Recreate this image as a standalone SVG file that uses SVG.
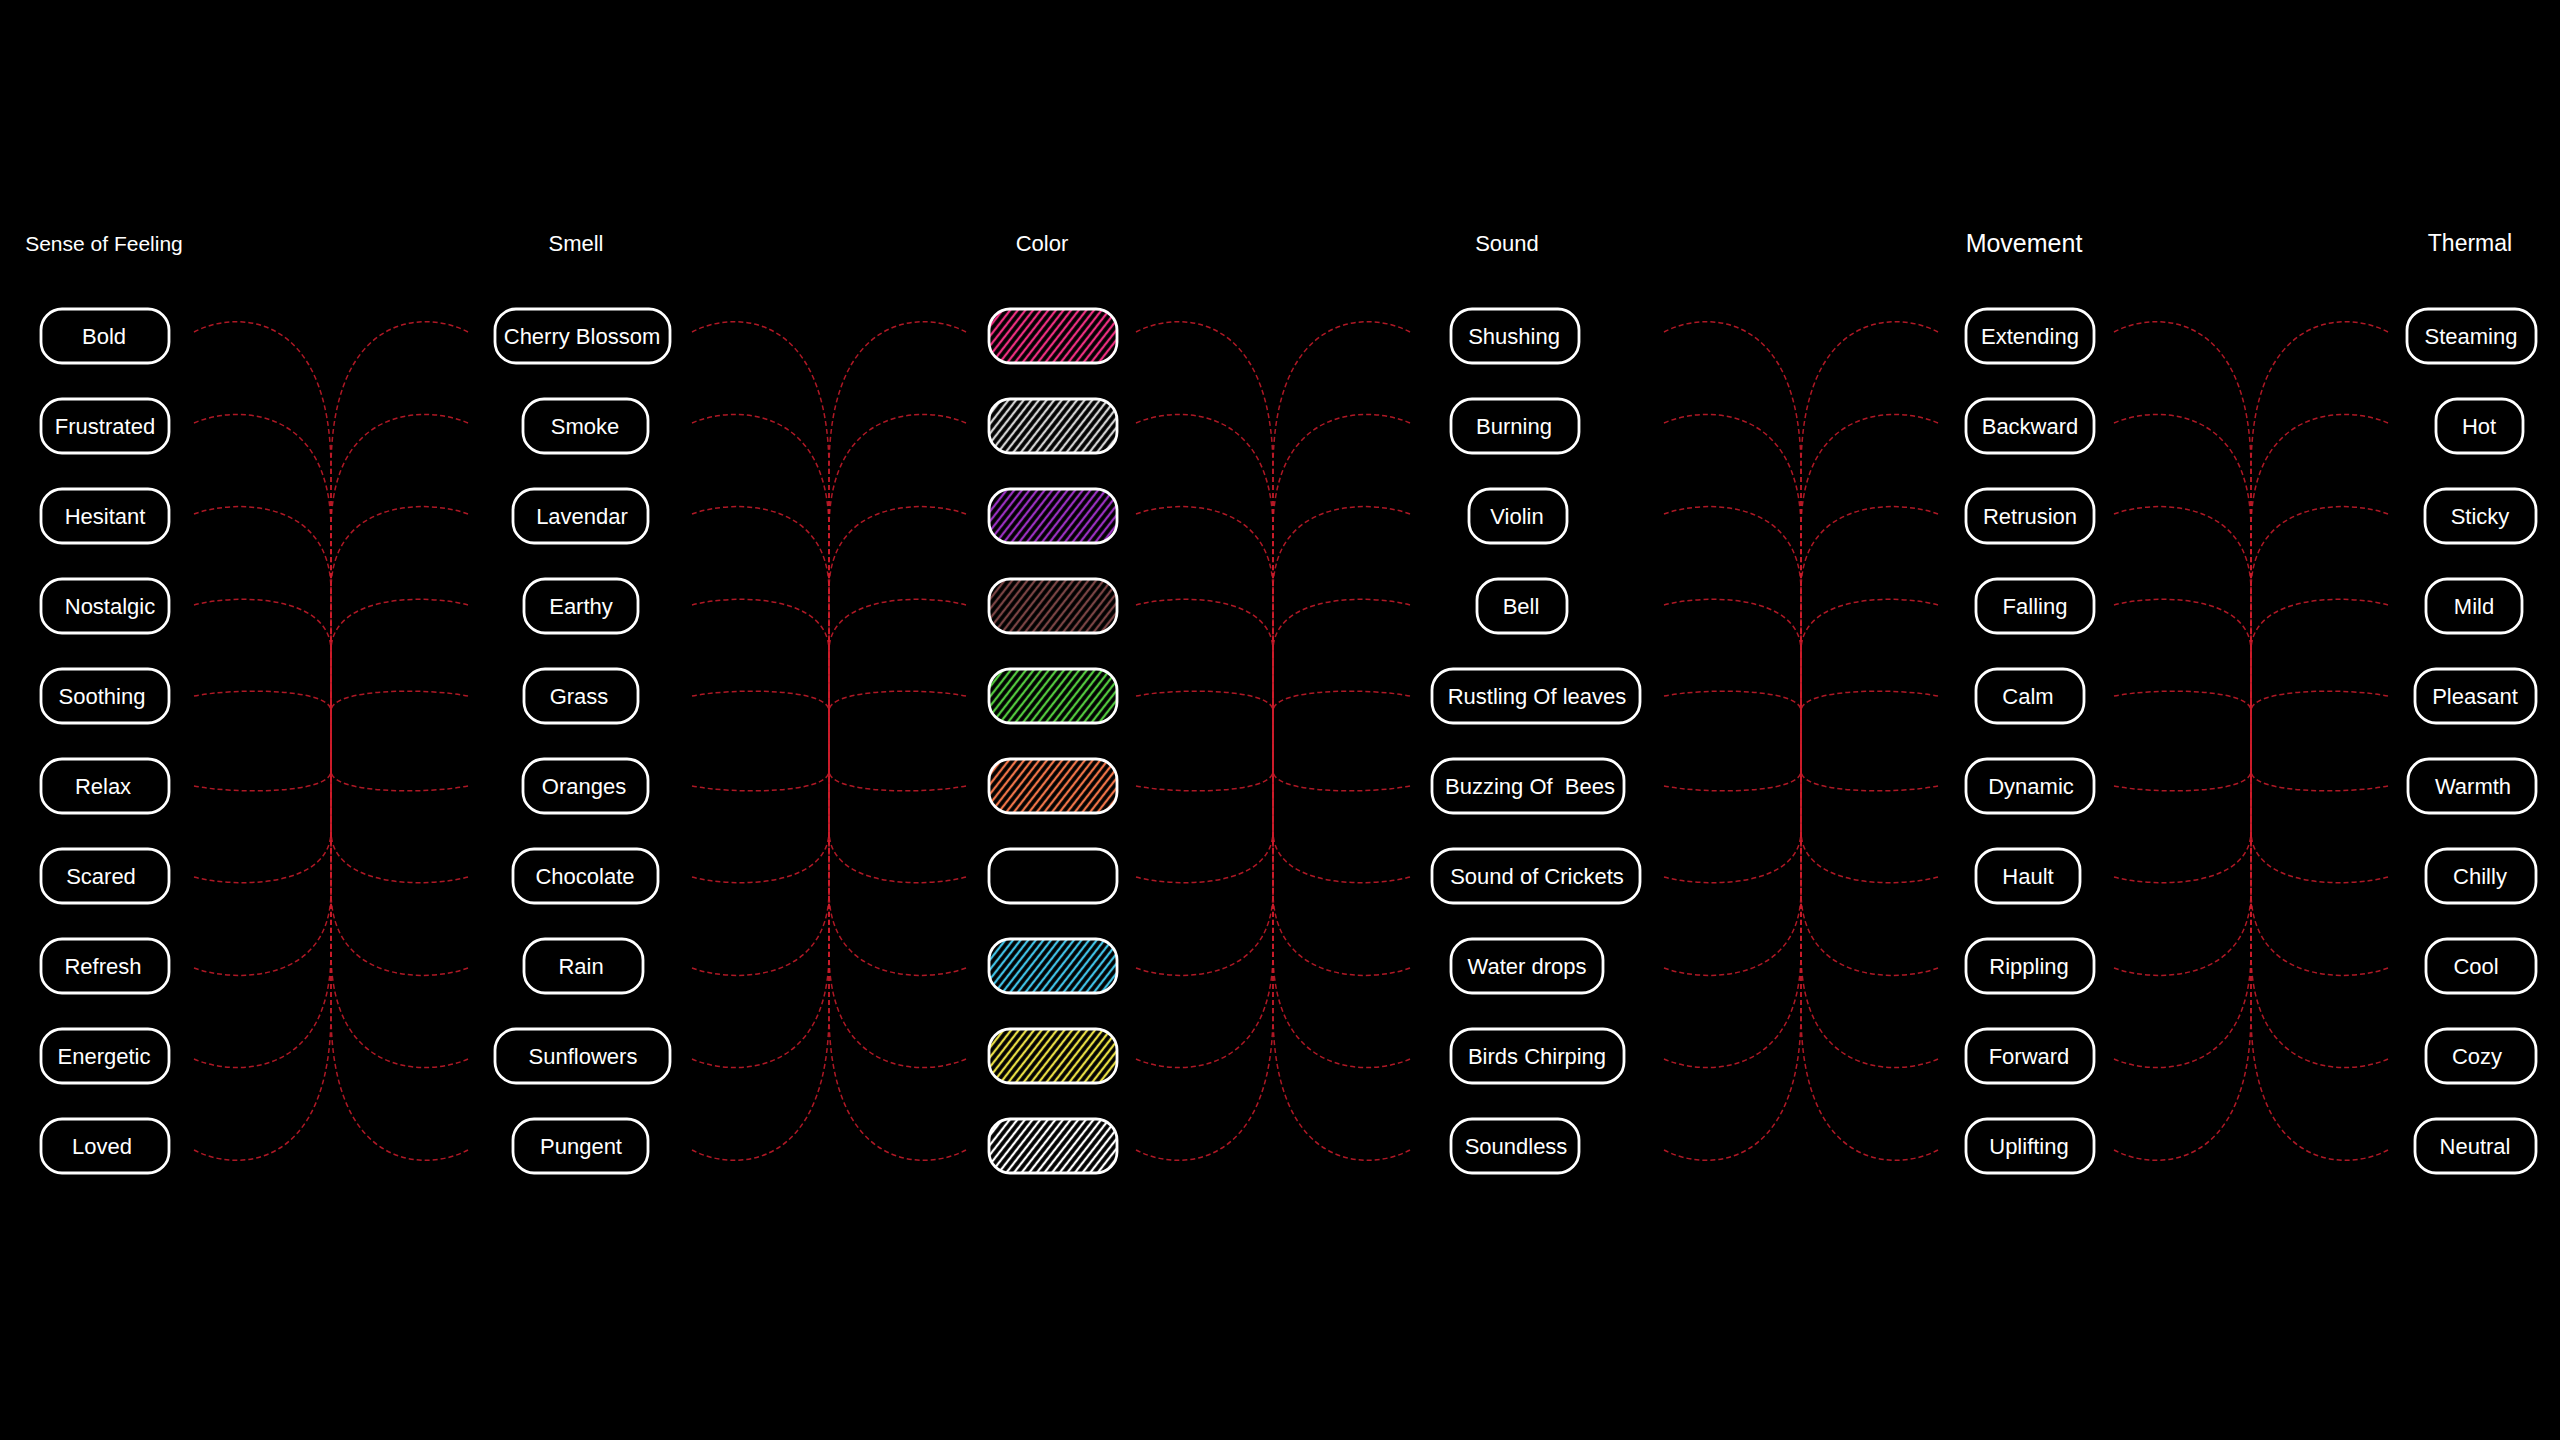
<svg xmlns="http://www.w3.org/2000/svg" width="2560" height="1440" viewBox="0 0 2560 1440">
<style>
.hdr{font-family:"Liberation Sans",Arial,sans-serif;font-size:22px;fill:#fff;text-anchor:middle}
.lbl{font-family:"Liberation Sans",Arial,sans-serif;font-size:22px;fill:#fff;text-anchor:middle}
.box{fill:#000;stroke:#fff;stroke-width:2.8}
.sw{stroke:#fff;stroke-width:2.8}
.conn path{fill:none;stroke:#cc1c2c;stroke-opacity:.85;stroke-width:1.5;stroke-dasharray:5 3}
</style>
<defs>
<pattern id="h-pink" width="6" height="10" patternUnits="userSpaceOnUse" patternTransform="rotate(38)"><rect width="6" height="10" fill="#000"/><line x1="3" y1="0" x2="3" y2="10" stroke="#ec2f80" stroke-width="2.3"/></pattern>
<pattern id="h-gray" width="6" height="10" patternUnits="userSpaceOnUse" patternTransform="rotate(38)"><rect width="6" height="10" fill="#000"/><line x1="3" y1="0" x2="3" y2="10" stroke="#d2d2d2" stroke-width="2.3"/></pattern>
<pattern id="h-purple" width="6" height="10" patternUnits="userSpaceOnUse" patternTransform="rotate(38)"><rect width="6" height="10" fill="#000"/><line x1="3" y1="0" x2="3" y2="10" stroke="#9a30c0" stroke-width="2.3"/></pattern>
<pattern id="h-brown" width="6" height="10" patternUnits="userSpaceOnUse" patternTransform="rotate(38)"><rect width="6" height="10" fill="#000"/><line x1="3" y1="0" x2="3" y2="10" stroke="#7a4444" stroke-width="2.3"/></pattern>
<pattern id="h-green" width="6" height="10" patternUnits="userSpaceOnUse" patternTransform="rotate(38)"><rect width="6" height="10" fill="#000"/><line x1="3" y1="0" x2="3" y2="10" stroke="#52c83e" stroke-width="2.3"/></pattern>
<pattern id="h-orange" width="6" height="10" patternUnits="userSpaceOnUse" patternTransform="rotate(38)"><rect width="6" height="10" fill="#000"/><line x1="3" y1="0" x2="3" y2="10" stroke="#ee7448" stroke-width="2.3"/></pattern>
<pattern id="h-cyan" width="6" height="10" patternUnits="userSpaceOnUse" patternTransform="rotate(38)"><rect width="6" height="10" fill="#000"/><line x1="3" y1="0" x2="3" y2="10" stroke="#40c0e4" stroke-width="2.3"/></pattern>
<pattern id="h-yellow" width="6" height="10" patternUnits="userSpaceOnUse" patternTransform="rotate(38)"><rect width="6" height="10" fill="#000"/><line x1="3" y1="0" x2="3" y2="10" stroke="#e6dc44" stroke-width="2.3"/></pattern>
<pattern id="h-white" width="6" height="10" patternUnits="userSpaceOnUse" patternTransform="rotate(38)"><rect width="6" height="10" fill="#000"/><line x1="3" y1="0" x2="3" y2="10" stroke="#ffffff" stroke-width="2.3"/></pattern>
</defs>
<rect x="0" y="0" width="2560" height="1440" fill="#000"/>

<g id="headers">
<text class="hdr" x="104" y="251" style="font-size:21px">Sense of Feeling</text>
<text class="hdr" x="576" y="251">Smell</text>
<text class="hdr" x="1042" y="251">Color</text>
<text class="hdr" x="1507" y="251">Sound</text>
<text class="hdr" x="2024" y="252" style="font-size:25px">Movement</text>
<text class="hdr" x="2470" y="251" style="font-size:23px">Thermal</text>
</g>

<g id="connectors" class="conn">
<g id="fan-feeling-smell" transform="translate(331 0)">
<path d="M-137,332 C-96,310 0,310 0,470 L0,741"/><path d="M137,332 C96,310 0,310 0,470 L0,741"/>
<path d="M-137,423 C-96,405 0,405 0,530 L0,741"/><path d="M137,423 C96,405 0,405 0,530 L0,741"/>
<path d="M-137,514 C-96,499 0,499 0,591 L0,741"/><path d="M137,514 C96,499 0,499 0,591 L0,741"/>
<path d="M-137,605 C-96,594 0,594 0,651 L0,741"/><path d="M137,605 C96,594 0,594 0,651 L0,741"/>
<path d="M-137,696 C-96,688 0,688 0,711 L0,741"/><path d="M137,696 C96,688 0,688 0,711 L0,741"/>
<path d="M-137,786 C-96,794 0,794 0,771 L0,741"/><path d="M137,786 C96,794 0,794 0,771 L0,741"/>
<path d="M-137,877 C-96,888 0,888 0,831 L0,741"/><path d="M137,877 C96,888 0,888 0,831 L0,741"/>
<path d="M-137,968 C-96,983 0,983 0,891 L0,741"/><path d="M137,968 C96,983 0,983 0,891 L0,741"/>
<path d="M-137,1059 C-96,1077 0,1077 0,952 L0,741"/><path d="M137,1059 C96,1077 0,1077 0,952 L0,741"/>
<path d="M-137,1150 C-96,1172 0,1172 0,1012 L0,741"/><path d="M137,1150 C96,1172 0,1172 0,1012 L0,741"/>
</g>
<g id="fan-smell-color" transform="translate(829 0)">
<path d="M-137,332 C-96,310 0,310 0,470 L0,741"/><path d="M137,332 C96,310 0,310 0,470 L0,741"/>
<path d="M-137,423 C-96,405 0,405 0,530 L0,741"/><path d="M137,423 C96,405 0,405 0,530 L0,741"/>
<path d="M-137,514 C-96,499 0,499 0,591 L0,741"/><path d="M137,514 C96,499 0,499 0,591 L0,741"/>
<path d="M-137,605 C-96,594 0,594 0,651 L0,741"/><path d="M137,605 C96,594 0,594 0,651 L0,741"/>
<path d="M-137,696 C-96,688 0,688 0,711 L0,741"/><path d="M137,696 C96,688 0,688 0,711 L0,741"/>
<path d="M-137,786 C-96,794 0,794 0,771 L0,741"/><path d="M137,786 C96,794 0,794 0,771 L0,741"/>
<path d="M-137,877 C-96,888 0,888 0,831 L0,741"/><path d="M137,877 C96,888 0,888 0,831 L0,741"/>
<path d="M-137,968 C-96,983 0,983 0,891 L0,741"/><path d="M137,968 C96,983 0,983 0,891 L0,741"/>
<path d="M-137,1059 C-96,1077 0,1077 0,952 L0,741"/><path d="M137,1059 C96,1077 0,1077 0,952 L0,741"/>
<path d="M-137,1150 C-96,1172 0,1172 0,1012 L0,741"/><path d="M137,1150 C96,1172 0,1172 0,1012 L0,741"/>
</g>
<g id="fan-color-sound" transform="translate(1273 0)">
<path d="M-137,332 C-96,310 0,310 0,470 L0,741"/><path d="M137,332 C96,310 0,310 0,470 L0,741"/>
<path d="M-137,423 C-96,405 0,405 0,530 L0,741"/><path d="M137,423 C96,405 0,405 0,530 L0,741"/>
<path d="M-137,514 C-96,499 0,499 0,591 L0,741"/><path d="M137,514 C96,499 0,499 0,591 L0,741"/>
<path d="M-137,605 C-96,594 0,594 0,651 L0,741"/><path d="M137,605 C96,594 0,594 0,651 L0,741"/>
<path d="M-137,696 C-96,688 0,688 0,711 L0,741"/><path d="M137,696 C96,688 0,688 0,711 L0,741"/>
<path d="M-137,786 C-96,794 0,794 0,771 L0,741"/><path d="M137,786 C96,794 0,794 0,771 L0,741"/>
<path d="M-137,877 C-96,888 0,888 0,831 L0,741"/><path d="M137,877 C96,888 0,888 0,831 L0,741"/>
<path d="M-137,968 C-96,983 0,983 0,891 L0,741"/><path d="M137,968 C96,983 0,983 0,891 L0,741"/>
<path d="M-137,1059 C-96,1077 0,1077 0,952 L0,741"/><path d="M137,1059 C96,1077 0,1077 0,952 L0,741"/>
<path d="M-137,1150 C-96,1172 0,1172 0,1012 L0,741"/><path d="M137,1150 C96,1172 0,1172 0,1012 L0,741"/>
</g>
<g id="fan-sound-movement" transform="translate(1801 0)">
<path d="M-137,332 C-96,310 0,310 0,470 L0,741"/><path d="M137,332 C96,310 0,310 0,470 L0,741"/>
<path d="M-137,423 C-96,405 0,405 0,530 L0,741"/><path d="M137,423 C96,405 0,405 0,530 L0,741"/>
<path d="M-137,514 C-96,499 0,499 0,591 L0,741"/><path d="M137,514 C96,499 0,499 0,591 L0,741"/>
<path d="M-137,605 C-96,594 0,594 0,651 L0,741"/><path d="M137,605 C96,594 0,594 0,651 L0,741"/>
<path d="M-137,696 C-96,688 0,688 0,711 L0,741"/><path d="M137,696 C96,688 0,688 0,711 L0,741"/>
<path d="M-137,786 C-96,794 0,794 0,771 L0,741"/><path d="M137,786 C96,794 0,794 0,771 L0,741"/>
<path d="M-137,877 C-96,888 0,888 0,831 L0,741"/><path d="M137,877 C96,888 0,888 0,831 L0,741"/>
<path d="M-137,968 C-96,983 0,983 0,891 L0,741"/><path d="M137,968 C96,983 0,983 0,891 L0,741"/>
<path d="M-137,1059 C-96,1077 0,1077 0,952 L0,741"/><path d="M137,1059 C96,1077 0,1077 0,952 L0,741"/>
<path d="M-137,1150 C-96,1172 0,1172 0,1012 L0,741"/><path d="M137,1150 C96,1172 0,1172 0,1012 L0,741"/>
</g>
<g id="fan-movement-thermal" transform="translate(2251 0)">
<path d="M-137,332 C-96,310 0,310 0,470 L0,741"/><path d="M137,332 C96,310 0,310 0,470 L0,741"/>
<path d="M-137,423 C-96,405 0,405 0,530 L0,741"/><path d="M137,423 C96,405 0,405 0,530 L0,741"/>
<path d="M-137,514 C-96,499 0,499 0,591 L0,741"/><path d="M137,514 C96,499 0,499 0,591 L0,741"/>
<path d="M-137,605 C-96,594 0,594 0,651 L0,741"/><path d="M137,605 C96,594 0,594 0,651 L0,741"/>
<path d="M-137,696 C-96,688 0,688 0,711 L0,741"/><path d="M137,696 C96,688 0,688 0,711 L0,741"/>
<path d="M-137,786 C-96,794 0,794 0,771 L0,741"/><path d="M137,786 C96,794 0,794 0,771 L0,741"/>
<path d="M-137,877 C-96,888 0,888 0,831 L0,741"/><path d="M137,877 C96,888 0,888 0,831 L0,741"/>
<path d="M-137,968 C-96,983 0,983 0,891 L0,741"/><path d="M137,968 C96,983 0,983 0,891 L0,741"/>
<path d="M-137,1059 C-96,1077 0,1077 0,952 L0,741"/><path d="M137,1059 C96,1077 0,1077 0,952 L0,741"/>
<path d="M-137,1150 C-96,1172 0,1172 0,1012 L0,741"/><path d="M137,1150 C96,1172 0,1172 0,1012 L0,741"/>
</g>
</g>

<g id="nodes">
<g id="feeling">
<g id="n-bold"><rect class="box" x="41" y="309" width="128" height="54" rx="21"/><text class="lbl" x="104" y="344">Bold</text></g>
<g id="n-frustrated"><rect class="box" x="41" y="399" width="128" height="54" rx="21"/><text class="lbl" x="105" y="434">Frustrated</text></g>
<g id="n-hesitant"><rect class="box" x="41" y="489" width="128" height="54" rx="21"/><text class="lbl" x="105" y="524">Hesitant</text></g>
<g id="n-nostalgic"><rect class="box" x="41" y="579" width="128" height="54" rx="21"/><text class="lbl" x="110" y="614">Nostalgic</text></g>
<g id="n-soothing"><rect class="box" x="41" y="669" width="128" height="54" rx="21"/><text class="lbl" x="102" y="704">Soothing</text></g>
<g id="n-relax"><rect class="box" x="41" y="759" width="128" height="54" rx="21"/><text class="lbl" x="103" y="794">Relax</text></g>
<g id="n-scared"><rect class="box" x="41" y="849" width="128" height="54" rx="21"/><text class="lbl" x="101" y="884">Scared</text></g>
<g id="n-refresh"><rect class="box" x="41" y="939" width="128" height="54" rx="21"/><text class="lbl" x="103" y="974">Refresh</text></g>
<g id="n-energetic"><rect class="box" x="41" y="1029" width="128" height="54" rx="21"/><text class="lbl" x="104" y="1064">Energetic</text></g>
<g id="n-loved"><rect class="box" x="41" y="1119" width="128" height="54" rx="21"/><text class="lbl" x="102" y="1154">Loved</text></g>
</g>
<g id="smell">
<g id="n-cherry-blossom"><rect class="box" x="495" y="309" width="175" height="54" rx="21"/><text class="lbl" x="582" y="344">Cherry Blossom</text></g>
<g id="n-smoke"><rect class="box" x="523" y="399" width="125" height="54" rx="21"/><text class="lbl" x="585" y="434">Smoke</text></g>
<g id="n-lavendar"><rect class="box" x="513" y="489" width="135" height="54" rx="21"/><text class="lbl" x="582" y="524">Lavendar</text></g>
<g id="n-earthy"><rect class="box" x="524" y="579" width="114" height="54" rx="21"/><text class="lbl" x="581" y="614">Earthy</text></g>
<g id="n-grass"><rect class="box" x="524" y="669" width="114" height="54" rx="21"/><text class="lbl" x="579" y="704">Grass</text></g>
<g id="n-oranges"><rect class="box" x="523" y="759" width="125" height="54" rx="21"/><text class="lbl" x="584" y="794">Oranges</text></g>
<g id="n-chocolate"><rect class="box" x="513" y="849" width="145" height="54" rx="21"/><text class="lbl" x="585" y="884">Chocolate</text></g>
<g id="n-rain"><rect class="box" x="524" y="939" width="119" height="54" rx="21"/><text class="lbl" x="581" y="974">Rain</text></g>
<g id="n-sunflowers"><rect class="box" x="495" y="1029" width="175" height="54" rx="21"/><text class="lbl" x="583" y="1064">Sunflowers</text></g>
<g id="n-pungent"><rect class="box" x="513" y="1119" width="135" height="54" rx="21"/><text class="lbl" x="581" y="1154">Pungent</text></g>
</g>
<g id="color">
<g id="n-color-pink"><rect class="sw" x="989" y="309" width="128" height="54" rx="21" fill="url(#h-pink)"/></g>
<g id="n-color-gray"><rect class="sw" x="989" y="399" width="128" height="54" rx="21" fill="url(#h-gray)"/></g>
<g id="n-color-purple"><rect class="sw" x="989" y="489" width="128" height="54" rx="21" fill="url(#h-purple)"/></g>
<g id="n-color-brown"><rect class="sw" x="989" y="579" width="128" height="54" rx="21" fill="url(#h-brown)"/></g>
<g id="n-color-green"><rect class="sw" x="989" y="669" width="128" height="54" rx="21" fill="url(#h-green)"/></g>
<g id="n-color-orange"><rect class="sw" x="989" y="759" width="128" height="54" rx="21" fill="url(#h-orange)"/></g>
<g id="n-color-black"><rect class="box" x="989" y="849" width="128" height="54" rx="21"/></g>
<g id="n-color-cyan"><rect class="sw" x="989" y="939" width="128" height="54" rx="21" fill="url(#h-cyan)"/></g>
<g id="n-color-yellow"><rect class="sw" x="989" y="1029" width="128" height="54" rx="21" fill="url(#h-yellow)"/></g>
<g id="n-color-white"><rect class="sw" x="989" y="1119" width="128" height="54" rx="21" fill="url(#h-white)"/></g>
</g>
<g id="sound">
<g id="n-shushing"><rect class="box" x="1451" y="309" width="128" height="54" rx="21"/><text class="lbl" x="1514" y="344">Shushing</text></g>
<g id="n-burning"><rect class="box" x="1451" y="399" width="128" height="54" rx="21"/><text class="lbl" x="1514" y="434">Burning</text></g>
<g id="n-violin"><rect class="box" x="1469" y="489" width="98" height="54" rx="21"/><text class="lbl" x="1517" y="524">Violin</text></g>
<g id="n-bell"><rect class="box" x="1477" y="579" width="90" height="54" rx="21"/><text class="lbl" x="1521" y="614">Bell</text></g>
<g id="n-rustling"><rect class="box" x="1432" y="669" width="208" height="54" rx="21"/><text class="lbl" x="1537" y="704">Rustling Of leaves</text></g>
<g id="n-buzzing"><rect class="box" x="1432" y="759" width="192" height="54" rx="21"/><text class="lbl" x="1530" y="794" style="white-space:pre">Buzzing Of  Bees</text></g>
<g id="n-crickets"><rect class="box" x="1432" y="849" width="208" height="54" rx="21"/><text class="lbl" x="1537" y="884">Sound of Crickets</text></g>
<g id="n-water-drops"><rect class="box" x="1451" y="939" width="152" height="54" rx="21"/><text class="lbl" x="1527" y="974">Water drops</text></g>
<g id="n-birds"><rect class="box" x="1451" y="1029" width="173" height="54" rx="21"/><text class="lbl" x="1537" y="1064">Birds Chirping</text></g>
<g id="n-soundless"><rect class="box" x="1451" y="1119" width="128" height="54" rx="21"/><text class="lbl" x="1516" y="1154">Soundless</text></g>
</g>
<g id="movement">
<g id="n-extending"><rect class="box" x="1966" y="309" width="128" height="54" rx="21"/><text class="lbl" x="2030" y="344">Extending</text></g>
<g id="n-backward"><rect class="box" x="1966" y="399" width="128" height="54" rx="21"/><text class="lbl" x="2030" y="434">Backward</text></g>
<g id="n-retrusion"><rect class="box" x="1966" y="489" width="128" height="54" rx="21"/><text class="lbl" x="2030" y="524">Retrusion</text></g>
<g id="n-falling"><rect class="box" x="1976" y="579" width="118" height="54" rx="21"/><text class="lbl" x="2035" y="614">Falling</text></g>
<g id="n-calm"><rect class="box" x="1976" y="669" width="108" height="54" rx="21"/><text class="lbl" x="2028" y="704">Calm</text></g>
<g id="n-dynamic"><rect class="box" x="1966" y="759" width="128" height="54" rx="21"/><text class="lbl" x="2031" y="794">Dynamic</text></g>
<g id="n-hault"><rect class="box" x="1976" y="849" width="104" height="54" rx="21"/><text class="lbl" x="2028" y="884">Hault</text></g>
<g id="n-rippling"><rect class="box" x="1966" y="939" width="128" height="54" rx="21"/><text class="lbl" x="2029" y="974">Rippling</text></g>
<g id="n-forward"><rect class="box" x="1966" y="1029" width="128" height="54" rx="21"/><text class="lbl" x="2029" y="1064">Forward</text></g>
<g id="n-uplifting"><rect class="box" x="1966" y="1119" width="128" height="54" rx="21"/><text class="lbl" x="2029" y="1154">Uplifting</text></g>
</g>
<g id="thermal">
<g id="n-steaming"><rect class="box" x="2407" y="309" width="129" height="54" rx="21"/><text class="lbl" x="2471" y="344">Steaming</text></g>
<g id="n-hot"><rect class="box" x="2436" y="399" width="87" height="54" rx="21"/><text class="lbl" x="2479" y="434">Hot</text></g>
<g id="n-sticky"><rect class="box" x="2425" y="489" width="111" height="54" rx="21"/><text class="lbl" x="2480" y="524">Sticky</text></g>
<g id="n-mild"><rect class="box" x="2426" y="579" width="96" height="54" rx="21"/><text class="lbl" x="2474" y="614">Mild</text></g>
<g id="n-pleasant"><rect class="box" x="2415" y="669" width="121" height="54" rx="21"/><text class="lbl" x="2475" y="704">Pleasant</text></g>
<g id="n-warmth"><rect class="box" x="2408" y="759" width="128" height="54" rx="21"/><text class="lbl" x="2473" y="794">Warmth</text></g>
<g id="n-chilly"><rect class="box" x="2426" y="849" width="110" height="54" rx="21"/><text class="lbl" x="2480" y="884">Chilly</text></g>
<g id="n-cool"><rect class="box" x="2426" y="939" width="110" height="54" rx="21"/><text class="lbl" x="2476" y="974">Cool</text></g>
<g id="n-cozy"><rect class="box" x="2426" y="1029" width="110" height="54" rx="21"/><text class="lbl" x="2477" y="1064">Cozy</text></g>
<g id="n-neutral"><rect class="box" x="2415" y="1119" width="121" height="54" rx="21"/><text class="lbl" x="2475" y="1154">Neutral</text></g>
</g>
</g>
</svg>
